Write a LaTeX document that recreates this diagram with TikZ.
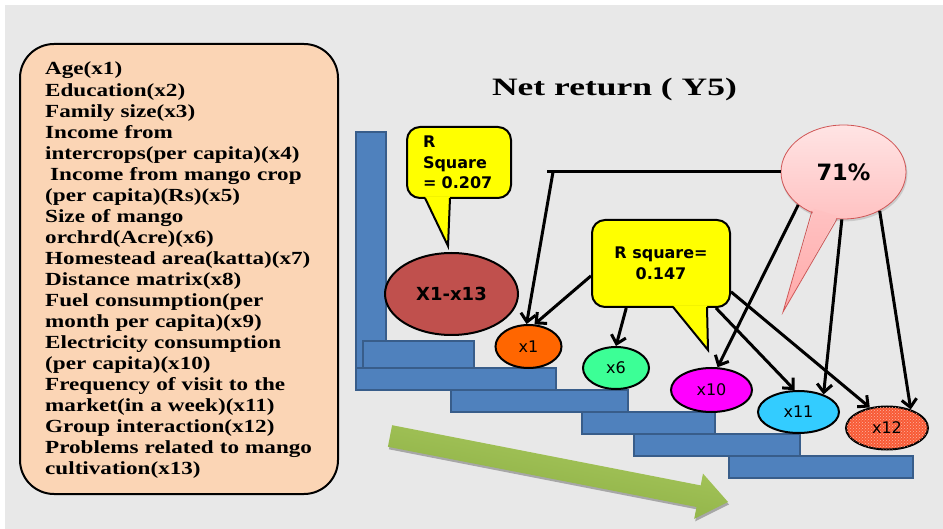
\documentclass[tikz,border=0pt]{standalone}
\usepackage{fontspec}
\setmainfont{Liberation Serif}
\newfontfamily\listfont[FakeStretch=1.25]{Liberation Serif}
\newfontfamily\titlefont[FakeStretch=1.42]{Liberation Serif}
\newfontfamily\labelfont{DejaVu Sans}
\usetikzlibrary{shapes.geometric,arrows.meta,patterns}

\definecolor{bggray}{HTML}{E8E8E8}
\definecolor{peach}{HTML}{FBD5B5}
\definecolor{stairblue}{HTML}{4F81BD}
\definecolor{stairedge}{HTML}{385D8A}
\definecolor{brick}{HTML}{C0504D}
\definecolor{callyellow}{HTML}{FFFF00}
\definecolor{xorange}{HTML}{FF6600}
\definecolor{xgreen}{HTML}{3CFF96}
\definecolor{xmagenta}{HTML}{FF00FF}
\definecolor{xcyan}{HTML}{33CCFF}
\definecolor{xred}{HTML}{F85A35}
\definecolor{pinktop}{HTML}{FFE4E4}
\definecolor{pinkbot}{HTML}{FFC2C2}
\definecolor{pinktip}{HTML}{FFA9A9}
\definecolor{pinkedge}{HTML}{D05555}
\definecolor{greenlight}{HTML}{ADCC62}
\definecolor{greendark}{HTML}{86AA3E}

\begin{document}
\begin{tikzpicture}[x=1pt,y=-1pt,
  stair/.style={fill=stairblue,draw=stairedge,line width=1.4pt},
  varell/.style={ellipse,draw=black,line width=2pt,inner sep=0pt,
    font=\labelfont\fontsize{16}{19}\selectfont},
  callbox/.style={rectangle,fill=callyellow,draw=black,line width=2pt,
    rounded corners=13pt,inner sep=0pt,
    font=\labelfont\bfseries\fontsize{16}{20.5}\selectfont},
  link/.style={draw=black,line width=3pt},
  linkarrow/.style={link,-{Straight Barb[length=8pt,width=15pt]}}
]
\useasboundingbox (0,0) rectangle (943,529);
\fill[white] (0,0) rectangle (943,529);
\fill[bggray] (5,5) rectangle (943,529);

% staircase
\draw[stair] (356,132) rectangle (386,368);
\draw[stair] (363,341) rectangle (474,368);
\draw[stair] (356,368) rectangle (556,390);
\draw[stair] (451,390) rectangle (628,412);
\draw[stair] (582,412) rectangle (715,434);
\draw[stair] (634,434) rectangle (800,456);
\draw[stair] (729,456) rectangle (913,478);

% downward green arrow with its shadow
\fill[black!45,opacity=0.7] (393.1,427.7) -- (701.7,487.9) -- (704.0,476.1) -- (729,504.5)
  -- (695.2,521.3) -- (697.5,509.5) -- (388.9,449.3) -- cycle;
\shade[top color=greenlight,bottom color=greendark,shading angle=-11]
  (392.1,425.2) -- (700.7,485.4) -- (703.0,473.6) -- (728,502)
  -- (694.2,518.8) -- (696.5,507.0) -- (387.9,446.8) -- cycle;

% list of explanatory variables
\node[draw=black,line width=2pt,fill=peach,rounded corners=34pt,
  minimum width=318pt,minimum height=450pt,inner sep=0pt] (listbox) at (179,269) {};
\node[anchor=base west,text width=292pt,align=left,inner sep=0pt,
  font=\listfont\bfseries\fontsize{18.5}{21.05}\selectfont] (vars) at (45,75)
  {Age(x1)\\
   Education(x2)\\
   Family size(x3)\\
   Income from\\
   intercrops(per capita)(x4)\\
   \hspace*{5pt}Income from mango crop\\
   (per capita)(Rs)(x5)\\
   Size of mango\\
   orchrd(Acre)(x6)\\
   Homestead area(katta)(x7)\\
   Distance matrix(x8)\\
   Fuel consumption(per\\
   month per capita)(x9)\\
   Electricity consumption\\
   (per capita)(x10)\\
   Frequency of visit to the\\
   market(in a week)(x11)\\
   Group interaction(x12)\\
   Problems related to mango\\
   cultivation(x13)};

% title
\node[anchor=base,inner sep=0pt,font=\titlefont\bfseries\fontsize{25}{30}\selectfont]
  (title) at (614.5,96) {Net return ( Y5)};

% variable ellipses
\node[varell,fill=brick,minimum width=133pt,minimum height=82pt,
  font=\labelfont\bfseries\fontsize{18}{22}\selectfont] (all) at (451.5,294) {X1-x13};
\node[varell,fill=xorange,minimum width=66pt,minimum height=43pt] (x1) at (528.5,346.5) {x1};
\node[varell,fill=xgreen,minimum width=66pt,minimum height=42pt] (x6) at (616,368) {x6};
\node[varell,fill=xmagenta,minimum width=81pt,minimum height=44pt] (x10) at (711.5,390) {x10};
\node[varell,fill=xcyan,minimum width=81pt,minimum height=42pt] (x11) at (798.5,412) {x11};
\node[varell,fill=xred,minimum width=82pt,minimum height=43pt,
  postaction={pattern=crosshatch dots,pattern color=white!55!xred}] (x12) at (887,428) {};
\node[font=\labelfont\fontsize{16}{19}\selectfont,inner sep=0pt] (x12lab) at (x12.center) {x12};

% first callout: R Square = 0.207
\node[callbox,minimum width=104pt,minimum height=71pt,text width=72pt,align=left]
  (c1) at (459,162.5) {R\\Square\\= 0.207};
\coordinate (c1tip) at (448,246);
\fill[callyellow] (425,196.5) -- (c1tip) -- (450,196.5) -- cycle;
\draw[black,line width=2pt,line join=miter] (425,198) -- (c1tip) -- (450,198);

% second callout: R square = 0.147
\node[callbox,minimum width=138pt,minimum height=87pt,align=center]
  (c2) at (661,263.5) {R square=\\0.147};
\coordinate (c2tip) at (708,350);
\fill[callyellow] (673,305.5) -- (c2tip) -- (707,305.5) -- cycle;
\draw[black,line width=2pt,line join=miter] (673,307) -- (c2tip) -- (707,307);

% 71% bubble
\fill[black!35,opacity=0.45] (844.2,173.8) ellipse[x radius=63.2pt,y radius=47.6pt];
\node[ellipse,top color=pinktop,bottom color=pinkbot,draw=pinkedge,line width=0.8pt,
  minimum width=125pt,minimum height=94pt,inner sep=0pt,
  font=\labelfont\bfseries\fontsize{22.5}{26}\selectfont] (p71) at (843.5,172) {71\%};
\coordinate (p71tip) at (783,312);
\shade[top color=pinkbot,bottom color=pinktip] (813.9,208.7) -- (p71tip) -- (837.4,216) -- cycle;
\draw[pinkedge,line width=0.8pt] (812,211) -- (p71tip) -- (837,219);

% connectors
\coordinate (hend) at (547,172);
\coordinate (hbend) at (553,172);
\draw[link] (p71.west) -- (hend);
\draw[linkarrow] (hbend) -- (x1.95);
\draw[linkarrow] (c2.190) -- (x1.75);
\draw[linkarrow] (c2.232) -- (x6.north);
\draw[linkarrow] (c2.321) -- (x11.100);
\draw[linkarrow] (c2.338) -- (x12.130);
\draw[linkarrow] (p71.216) -- (x10.75);
\draw[linkarrow] (p71.268) -- (x11.35);
\draw[linkarrow] (p71.313) -- (x12.38);
\end{tikzpicture}
\end{document}
